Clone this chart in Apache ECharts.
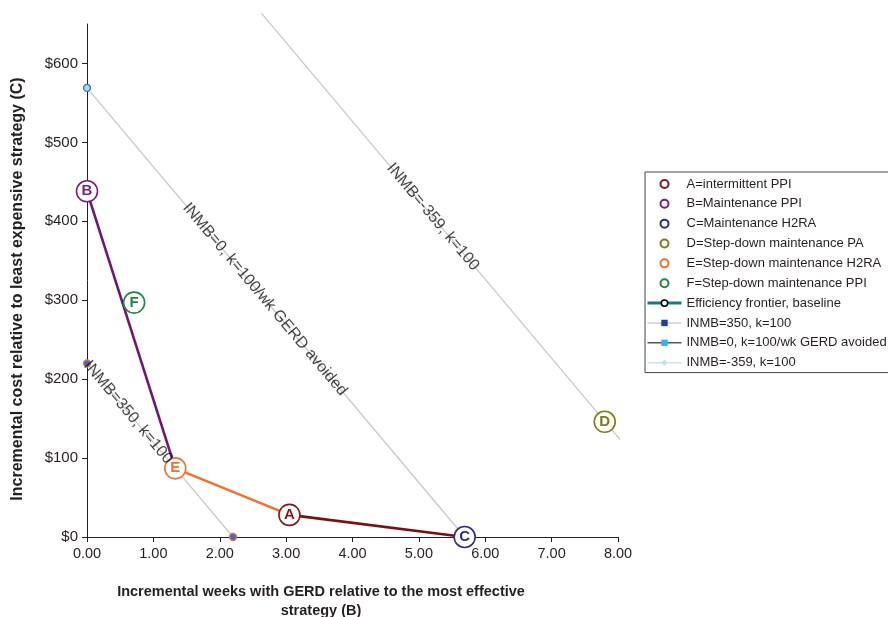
<!DOCTYPE html>
<html>
<head>
<meta charset="utf-8">
<script src="https://cdn.jsdelivr.net/npm/echarts@6/dist/echarts.min.js"></script>
<style>
  html, body { margin: 0; padding: 0; background: #fff; }
  #chart { width: 888px; height: 617px; }
</style>
</head>
<body>
<div id="chart"></div>
<script>
// Strategies: incremental weeks with GERD (x) and incremental cost (y)
const STRATEGY_KEYS = ['A', 'B', 'C', 'D', 'E', 'F'];
const STRATEGY_NAMES = [
  'A=intermittent PPI',
  'B=Maintenance PPI',
  'C=Maintenance H2RA',
  'D=Step-down maintenance PA',
  'E=Step-down maintenance H2RA',
  'F=Step-down maintenance PPI'
];
const STRATEGY_WEEKS = [3.05, 0.00, 5.69, 7.80, 1.33, 0.71];
const STRATEGY_COST  = [28, 438, 0, 146, 87, 297];

// Efficiency frontier, in order along the curve
const FRONTIER = ['B', 'E', 'A', 'C'];
const FRONTIER_NAME = 'Efficiency frontier, baseline';

// Net monetary benefit reference lines (k = 100 per week of GERD avoided)
const INMB_NAMES = ['INMB=350, k=100', 'INMB=0, k=100/wk GERD avoided', 'INMB=-359, k=100'];
const INMB_350_X = [0.00, 1.33, 2.20];
const INMB_350_Y = [220, 87, 0];
const INMB_0_X = [0.00, 5.69];
const INMB_0_Y = [569, 0];
const INMB_M359_X = [2.63, 7.80, 8.15];
const INMB_M359_Y = [663.5, 146.5, 111.5];

// Axis ticks
const X_TICKS = [0, 1, 2, 3, 4, 5, 6, 7, 8];
const Y_TICKS = [0, 100, 200, 300, 400, 500, 600];

// ---- styling ----
const FONT = '"Liberation Sans", Arial, Helvetica, sans-serif';
const INK = '#231f20';
const STRATEGY_COLORS = {
  A: '#8a1717', B: '#7a1f7c', C: '#2b2c85', D: '#7d7d1a', E: '#f0722f', F: '#1f8a3c'
};
const SEGMENT_COLORS = { B: '#6c1870', E: '#f0722f', A: '#7a0f12' };
// where along x each reference-line caption is centred
const INMB_LABEL_AT = [0.62, 2.68, 5.21];
const LABEL_ROTATE = -50;
const DASH = 'path://M0,0H10V3H0Z';

const chart = echarts.init(document.getElementById('chart'), null, { renderer: 'canvas' });

const idx = k => STRATEGY_KEYS.indexOf(k);
const pt = k => [STRATEGY_WEEKS[idx(k)], STRATEGY_COST[idx(k)]];
const zip = (xs, ys) => xs.map((x, i) => [x, ys[i]]);

function yOnLine(xs, ys, x) {
  for (let i = 0; i < xs.length - 1; i++) {
    if (x >= xs[i] && x <= xs[i + 1]) {
      const t = (x - xs[i]) / (xs[i + 1] - xs[i]);
      return ys[i] + t * (ys[i + 1] - ys[i]);
    }
  }
  return ys[ys.length - 1];
}

const series = [];

// reference lines
const inmbLines = [
  { xs: INMB_350_X, ys: INMB_350_Y, symbol: DASH, color: '#1f3f9a',
    ends: { symbol: 'circle', color: '#2f6fd0', border: '#f0722f' } },
  { xs: INMB_0_X, ys: INMB_0_Y, symbol: DASH, color: '#39b2e6',
    ends: { symbol: 'circle', color: '#a9d8f2', border: '#3a6fc8' } },
  { xs: INMB_M359_X, ys: INMB_M359_Y, symbol: 'diamond', color: '#bfe3e3', ends: null }
];
inmbLines.forEach((ln, i) => {
  const pts = zip(ln.xs, ln.ys).map((p, j) => {
    const isEnd = (j === 0 || j === ln.xs.length - 1);
    if (ln.ends && isEnd && !(i === 1 && j === ln.xs.length - 1)) {
      return { value: p, symbol: ln.ends.symbol, symbolSize: 7,
        itemStyle: { color: ln.ends.color, borderColor: ln.ends.border, borderWidth: 1.3 } };
    }
    return { value: p, symbolSize: 0.01 };
  });
  series.push({
    name: INMB_NAMES[i],
    type: 'line',
    data: pts,
    clip: false,
    z: 1,
    symbol: ln.symbol,
    symbolSize: 4,
    symbolKeepAspect: true,
    showSymbol: true,
    silent: true,
    itemStyle: { color: ln.color },
    lineStyle: { color: '#c6c6c6', width: 1.2 }
  });
});

// captions running along the reference lines
series.push({
  name: 'reference line captions',
  type: 'scatter',
  z: 6,
  silent: true,
  symbolSize: 1,
  itemStyle: { color: 'rgba(0,0,0,0)' },
  data: inmbLines.map((ln, i) => ({
    value: [INMB_LABEL_AT[i], yOnLine(ln.xs, ln.ys, INMB_LABEL_AT[i])],
    label: { formatter: INMB_NAMES[i] }
  })),
  label: {
    show: true,
    position: 'inside',
    rotate: LABEL_ROTATE,
    align: 'center',
    verticalAlign: 'middle',
    fontFamily: FONT,
    fontSize: 16,
    color: '#111111'
  }
});

// efficiency frontier segments, each coloured by the strategy it starts from
for (let i = 0; i < FRONTIER.length - 1; i++) {
  const a = FRONTIER[i], b = FRONTIER[i + 1];
  series.push({
    name: FRONTIER_NAME,
    type: 'line',
    data: [pt(a), pt(b)],
    z: 3,
    symbol: 'circle',
    symbolSize: 1,
    showSymbol: false,
    silent: true,
    itemStyle: { color: '#ffffff', borderColor: '#000' },
    lineStyle: { color: SEGMENT_COLORS[a], width: 2.6 }
  });
}

// strategy markers
STRATEGY_KEYS.forEach((k, i) => {
  const c = STRATEGY_COLORS[k];
  series.push({
    name: STRATEGY_NAMES[i],
    type: 'scatter',
    z: 5,
    silent: true,
    symbol: 'circle',
    symbolSize: 21,
    data: [{ value: [STRATEGY_WEEKS[i], STRATEGY_COST[i]], name: k }],
    itemStyle: { color: '#ffffff', borderColor: c, borderWidth: 1.6, opacity: 1 },
    label: {
      show: true,
      position: 'inside',
      formatter: '{b}',
      fontFamily: FONT,
      fontWeight: 'bold',
      fontSize: 15,
      color: c
    }
  });
});

const legendData = STRATEGY_NAMES.map(n => ({ name: n }))
  .concat([
    { name: FRONTIER_NAME,
      itemStyle: { color: '#ffffff', borderColor: '#000000', borderWidth: 1.5 },
      lineStyle: { color: '#167c7a', width: 3 } },
    { name: INMB_NAMES[0], lineStyle: { color: '#cfcfcf', width: 1.5 } },
    { name: INMB_NAMES[1], lineStyle: { color: '#555555', width: 1.5 } },
    { name: INMB_NAMES[2], lineStyle: { color: '#cfe3e3', width: 1.5 } }
  ]);

chart.setOption({
  animation: false,
  backgroundColor: '#ffffff',
  textStyle: { fontFamily: FONT },
  grid: { left: 87, right: 270, top: 24, bottom: 80, containLabel: false, outerBoundsMode: 'none' },
  legend: {
    orient: 'vertical',
    left: 645,
    top: 172,
    padding: [2, 12, 0, 1],
    itemWidth: 34,
    itemHeight: 8,
    itemGap: 0,
    selectedMode: false,
    borderColor: '#444',
    borderWidth: 1,
    textStyle: { fontFamily: FONT, fontSize: 13, color: INK, lineHeight: 19.86 },
    data: legendData
  },
  xAxis: {
    type: 'value',
    min: X_TICKS[0],
    max: X_TICKS[X_TICKS.length - 1],
    interval: 1,
    axisLine: { show: true, onZero: false, lineStyle: { color: INK, width: 1 } },
    axisTick: { show: true, inside: false, length: 5, lineStyle: { color: INK } },
    splitLine: { show: false },
    axisLabel: {
      margin: 9,
      fontFamily: FONT,
      fontSize: 14.5,
      color: INK,
      formatter: v => v.toFixed(2)
    }
  },
  yAxis: {
    type: 'value',
    min: 0,
    max: 650,
    axisLine: { show: true, onZero: false, lineStyle: { color: INK, width: 1 } },
    axisTick: { show: true, length: 5, customValues: Y_TICKS, lineStyle: { color: INK } },
    splitLine: { show: false },
    axisLabel: {
      margin: 9,
      customValues: Y_TICKS,
      fontFamily: FONT,
      fontSize: 15,
      color: INK,
      formatter: v => '$' + v
    }
  },
  graphic: [
    {
      type: 'text',
      x: 321,
      y: 601,
      silent: true,
      style: {
        text: 'Incremental weeks with GERD relative to the most effective\nstrategy (B)',
        fontFamily: FONT,
        fontWeight: 'bold',
        fontSize: 14.5,
        lineHeight: 19,
        fill: INK,
        align: 'center',
        verticalAlign: 'middle'
      }
    },
    {
      type: 'text',
      x: 18,
      y: 289,
      rotation: Math.PI / 2,
      silent: true,
      style: {
        text: 'Incremental cost relative to least expensive strategy (C)',
        fontFamily: FONT,
        fontWeight: 'bold',
        fontSize: 16,
        fill: INK,
        align: 'center',
        verticalAlign: 'middle'
      }
    }
  ],
  series: series
});
</script>
</body>
</html>
